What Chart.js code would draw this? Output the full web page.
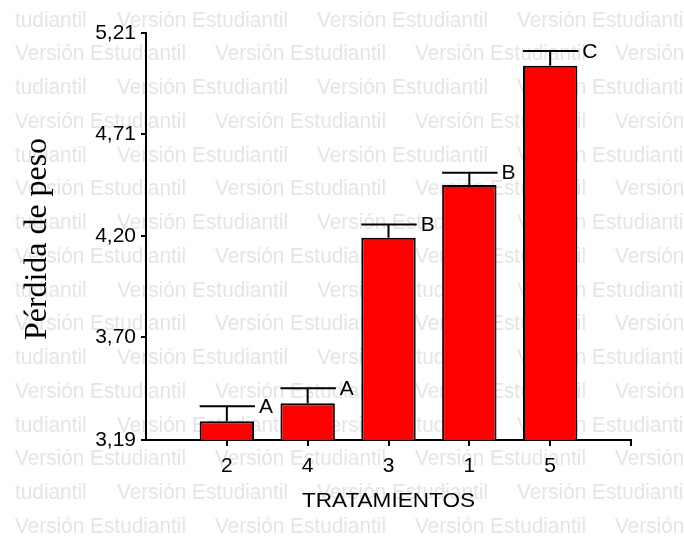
<!DOCTYPE html>
<html><head><meta charset="utf-8">
<script src="https://cdn.jsdelivr.net/npm/chart.js@4"></script>
<style>html,body{margin:0;padding:0;background:#fff;} canvas{display:block;}</style>
</head><body>
<canvas id="c" width="684" height="538"></canvas>
<script>
const categories = ['2', '4', '3', '1', '5'];
const means = [3.283, 3.372, 4.194, 4.455, 5.048];
const errors = [0.074, 0.075, 0.066, 0.062, 0.073];
const letters = ['A', 'A', 'B', 'B', 'C'];
const yTicks = [3.19, 3.70, 4.20, 4.71, 5.21];
const yTitle = 'Pérdida de peso';
const xTitle = 'TRATAMIENTOS';
const watermark = 'Versión Estudiantil';
const watermarkTail = 'tudiantil';

const WM_FONT = '22.5px "Liberation Sans"';

function drawFitted(ctx, text, x, y, font, targetW, align) {
  ctx.save();
  ctx.font = font;
  const w = ctx.measureText(text).width;
  const sx = targetW / w;
  ctx.translate(x, y);
  ctx.scale(sx, 1);
  ctx.textAlign = align;
  ctx.fillText(text, 0, 0);
  ctx.restore();
}

const watermarkPlugin = {
  id: 'wm',
  beforeDraw(chart) {
    const ctx = chart.ctx;
    ctx.save();
    ctx.font = WM_FONT;
    const sx = 171 / ctx.measureText(watermark).width;
    ctx.fillStyle = '#e5e5e5';
    ctx.textBaseline = 'alphabetic';
    ctx.textAlign = 'left';
    for (let k = 0; k < 17; k++) {
      const y = 26.5 + 33.75 * k;
      const start = (k % 2 === 0) ? 117 : 15;
      if (k % 2 === 0) {
        ctx.save();
        ctx.translate(15, y);
        ctx.scale(sx, 1);
        ctx.fillText(watermarkTail, 0, 0);
        ctx.restore();
      }
      for (let x = start; x < 700; x += 200) {
        ctx.save();
        ctx.translate(x, y);
        ctx.scale(sx, 1);
        ctx.fillText(watermark, 0, 0);
        ctx.restore();
      }
    }
    ctx.restore();
  }
};

const extrasPlugin = {
  id: 'extras',
  afterDatasetsDraw(chart) {
    const ctx = chart.ctx;
    const meta = chart.getDatasetMeta(0);
    const ys = chart.scales.y;
    means.forEach((m, i) => {
      const bar = meta.data[i + 1];
      const yTop = ys.getPixelForValue(m + errors[i]);
      const half = bar.width / 2;
      ctx.save();
      ctx.strokeStyle = '#000';
      ctx.lineWidth = 2;
      ctx.beginPath();
      ctx.moveTo(bar.x, bar.y);
      ctx.lineTo(bar.x, yTop);
      ctx.moveTo(bar.x - half, yTop);
      ctx.lineTo(bar.x + half + 1, yTop);
      ctx.stroke();
      ctx.fillStyle = '#000';
      ctx.font = '21px "Liberation Sans"';
      ctx.textBaseline = 'middle';
      ctx.textAlign = 'left';
      ctx.fillText(letters[i], bar.x + half + 5, yTop + 1);
      ctx.restore();
    });
  },
  afterDraw(chart) {
    const ctx = chart.ctx;
    ctx.save();
    ctx.fillStyle = '#000';
    ctx.textBaseline = 'alphabetic';
    drawFitted(ctx, xTitle, 388.5, 507, '21px "Liberation Sans"', 173, 'center');
    ctx.translate(38, 239);
    ctx.rotate(-Math.PI / 2);
    ctx.textBaseline = 'middle';
    drawFitted(ctx, yTitle, 0, 0, '31px "Liberation Serif"', 202, 'center');
    ctx.restore();
  }
};

new Chart(document.getElementById('c'), {
  type: 'bar',
  data: {
    labels: ['', ...categories, ''],
    datasets: [{
      data: [null, ...means, null],
      backgroundColor: '#ff0000',
      borderColor: '#000000',
      borderWidth: 2,
      borderSkipped: false,
      barPercentage: 0.673,
      categoryPercentage: 1
    }]
  },
  options: {
    responsive: false,
    animation: false,
    layout: { padding: { top: 33, right: 53, left: 0, bottom: 0 } },
    plugins: { legend: { display: false }, tooltip: { enabled: false } },
    scales: {
      x: {
        type: 'category',
        offset: false,
        grid: {
          offset: false,
          display: true,
          drawOnChartArea: false,
          drawTicks: true,
          tickLength: 6,
          lineWidth: 2,
          color: (c) => c.index === 0 ? 'rgba(0,0,0,0)' : '#000'
        },
        border: { display: true, color: '#000', width: 2 },
        ticks: { color: '#000', font: { family: 'Liberation Sans', size: 21 }, padding: 8, maxRotation: 0, autoSkip: false },
        afterFit: (s) => { s.height = 98; }
      },
      y: {
        min: 3.19,
        max: 5.21,
        beginAtZero: false,
        afterBuildTicks: (s) => { s.ticks = yTicks.map(v => ({ value: v })); },
        grid: { drawOnChartArea: false, drawTicks: true, tickLength: 5, lineWidth: 2, color: '#000' },
        border: { display: true, color: '#000', width: 2 },
        ticks: {
          color: '#000',
          font: { family: 'Liberation Sans', size: 21 },
          padding: 5,
          callback: (v) => Number(v).toFixed(2).replace('.', ',')
        },
        afterFit: (s) => { s.width = 146; }
      }
    }
  },
  plugins: [watermarkPlugin, extrasPlugin]
});
</script>
</body></html>
